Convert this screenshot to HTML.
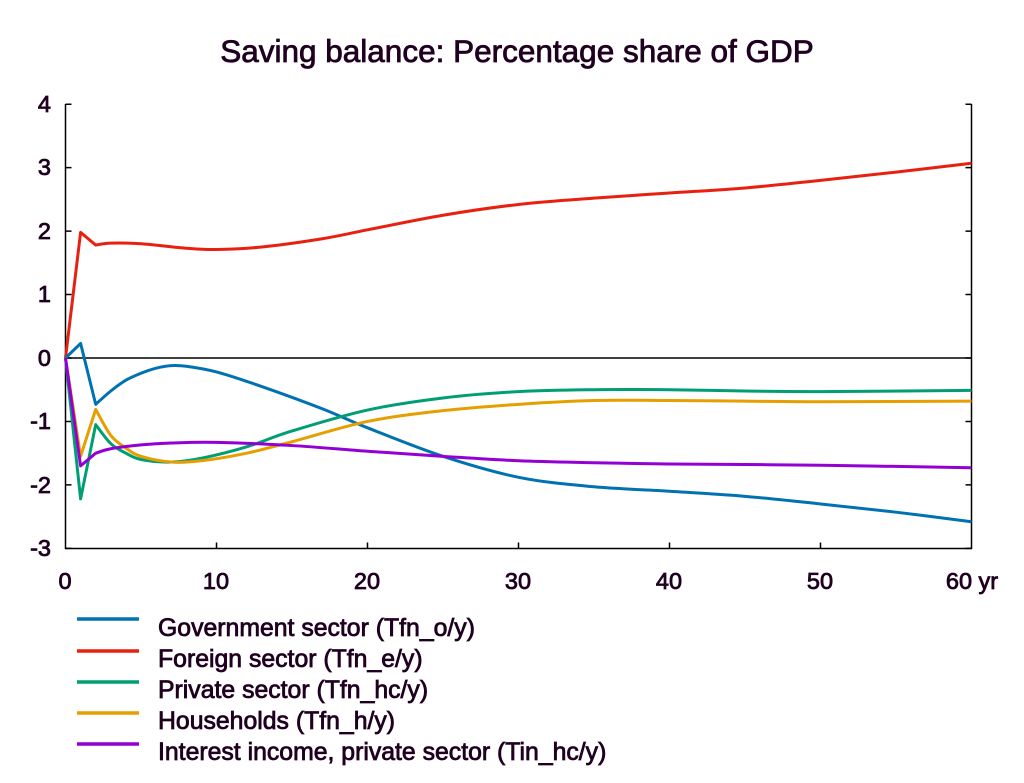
<!DOCTYPE html>
<html><head><meta charset="utf-8"><style>
body{margin:0;background:#fff}
svg text{font-family:"Liberation Sans",Arial,sans-serif;fill:#200020;stroke:#200020;stroke-width:0.8}
</style></head><body>
<svg id="s" width="1024" height="778" xmlns="http://www.w3.org/2000/svg">
<text x="517" y="62" font-size="31.5" text-anchor="middle">Saving balance: Percentage share of GDP</text>
<g font-size="23.5" text-anchor="end">
<text x="51" y="112">4</text><text x="51" y="175">3</text><text x="51" y="239">2</text><text x="51" y="302">1</text><text x="51" y="366">0</text><text x="51" y="429">-1</text><text x="51" y="493">-2</text><text x="51" y="556">-3</text>
</g>
<g font-size="23.5" text-anchor="middle">
<text x="65" y="589">0</text><text x="216" y="589">10</text><text x="367" y="589">20</text><text x="518" y="589">30</text><text x="669" y="589">40</text><text x="820" y="589">50</text><text x="972" y="589">60 yr</text>
</g>
<g stroke="#000" stroke-width="1.5" fill="none">
<path d="M65.5 104V548.5H971.5V104"/>
<path d="M65 358H971"/>
<path id="ticks"/>
</g>
<g id="series" fill="none" stroke-width="3" stroke-linejoin="round"></g>
<g stroke-width="3.5">
<line x1="77" y1="619" x2="139" y2="619" stroke="#0072b2"/>
<line x1="77" y1="651" x2="139" y2="651" stroke="#e8200f"/>
<line x1="77" y1="682" x2="139" y2="682" stroke="#009e73"/>
<line x1="77" y1="713" x2="139" y2="713" stroke="#e69f00"/>
<line x1="77" y1="744" x2="139" y2="744" stroke="#9400d3"/>
</g>
<g font-size="24.8">
<text x="158" y="636">Government sector (Tfn_o/y)</text>
<text x="158" y="667">Foreign sector (Tfn_e/y)</text>
<text x="158" y="698">Private sector (Tfn_hc/y)</text>
<text x="158" y="729">Households (Tfn_h/y)</text>
<text x="158" y="760">Interest income, private sector (Tin_hc/y)</text>
</g>
</svg>
<script>
var X=function(t){return 65.5+t*15.1},Y=function(v){return 358-63.45*v};
var t="";
for(var v=-3;v<=4;v++){var y=Y(v);t+="M65.5 "+y+"h6M971.5 "+y+"h-6";}
for(var k=1;k<6;k++){var x=X(k*10);t+="M"+x+" 548.5v-6";}
document.getElementById("ticks").setAttribute("d",t);
var D=[
["#e8200f",[[0,0],[1,1.98],[2,1.78],[3,1.81],[5,1.80],[8,1.73],[10,1.71],[13,1.75],[17,1.88],[20,2.02],[25,2.25],[30,2.42],[35,2.52],[40,2.6],[45,2.68],[50,2.8],[55,2.93],[60,3.07]]],
["#0072b2",[[0,0],[1,0.23],[2,-0.73],[3,-0.52],[4,-0.35],[5,-0.24],[6,-0.16],[7,-0.12],[8,-0.13],[10,-0.22],[13,-0.45],[17,-0.8],[20,-1.1],[25,-1.55],[30,-1.88],[35,-2.03],[40,-2.1],[45,-2.18],[50,-2.3],[55,-2.43],[60,-2.58]]],
["#009e73",[[0,0],[1,-2.22],[2,-1.05],[3,-1.35],[4,-1.5],[5,-1.6],[7,-1.64],[9,-1.58],[12,-1.4],[15,-1.15],[20,-0.82],[25,-0.63],[30,-0.53],[35,-0.5],[40,-0.5],[45,-0.52],[50,-0.53],[60,-0.51]]],
["#e69f00",[[0,0],[1,-1.55],[2,-0.81],[3,-1.22],[4,-1.42],[5,-1.55],[7,-1.64],[9,-1.62],[12,-1.5],[15,-1.32],[20,-1.0],[25,-0.83],[30,-0.73],[35,-0.67],[40,-0.67],[45,-0.68],[50,-0.69],[60,-0.68]]],
["#9400d3",[[0,0],[1,-1.7],[2,-1.5],[3,-1.43],[5,-1.37],[7,-1.34],[10,-1.33],[15,-1.38],[20,-1.47],[25,-1.55],[30,-1.62],[35,-1.65],[40,-1.67],[50,-1.69],[60,-1.73]]]];
var g=document.getElementById("series"),ns="http://www.w3.org/2000/svg";
D.forEach(function(s){
var P=s[1].map(function(q){return [X(q[0]),Y(q[1])]});
var d="M"+P[0]+"L"+P[1]+"L"+P[2];
for(var i=2;i<P.length-1;i++){
var p0=P[i-1],p1=P[i],p2=P[i+1],p3=P[Math.min(i+2,P.length-1)];
if(i==2)p0=p1;
var c1=[p1[0]+(p2[0]-p0[0])/6,p1[1]+(p2[1]-p0[1])/6],c2=[p2[0]-(p3[0]-p1[0])/6,p2[1]-(p3[1]-p1[1])/6];
d+="C"+c1+" "+c2+" "+p2;}
var p=document.createElementNS(ns,"path");
p.setAttribute("stroke",s[0]);p.setAttribute("d",d);g.appendChild(p);});
</script>
</body></html>
